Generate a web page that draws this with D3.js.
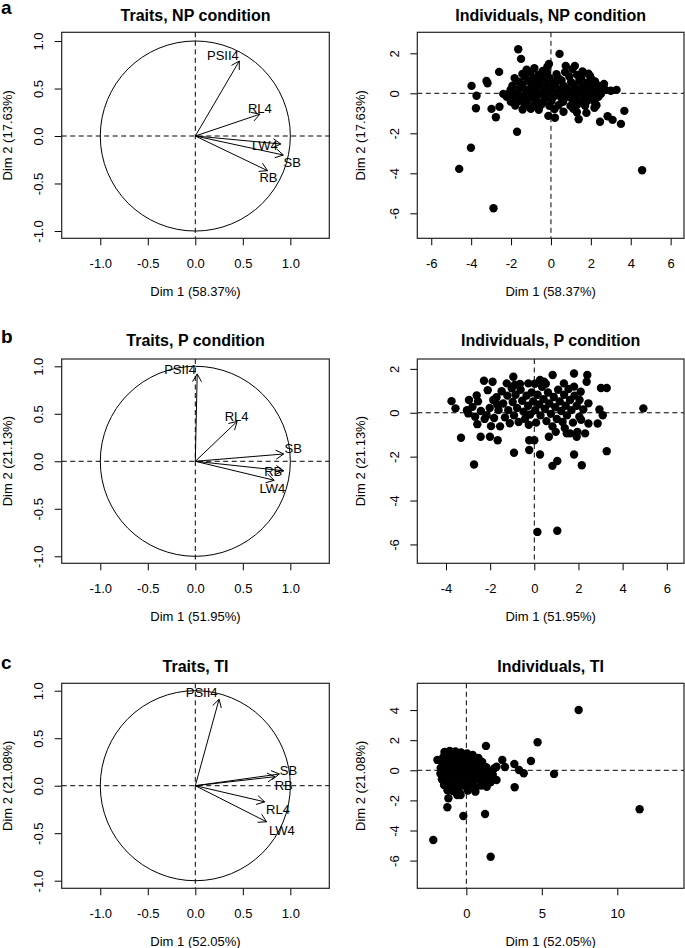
<!DOCTYPE html>
<html>
<head>
<meta charset="utf-8">
<script src="https://cdn.jsdelivr.net/npm/d3@7"></script>
<style>
  body { margin: 0; background: #fff; }
  svg text { font-family: "Liberation Sans", Arial, sans-serif; fill: #000; }
</style>
</head>
<body>
<svg id="fig" width="685" height="948"></svg>
<script>
// ---- data ----
const traitNames = ["PSII4", "RL4", "LW4", "SB", "RB"];

// variable coordinates (arrow tips) and where the label sits
const npTraitX = [0.463, 0.68, 0.90, 0.926, 0.76];
const npTraitY = [0.79, 0.23, -0.084, -0.20, -0.365];
const npLabelX = [0.29, 0.68, 0.733, 1.02, 0.77];
const npLabelY = [0.853, 0.295, -0.098, -0.28, -0.44];

const pTraitX = [0.02, 0.44, 0.83, 0.93, 0.93];
const pTraitY = [0.92, 0.42, -0.20, 0.077, -0.10];
const pLabelX = [-0.16, 0.435, 0.81, 1.03, 0.82];
const pLabelY = [0.965, 0.47, -0.283, 0.13, -0.108];

const tiTraitX = [0.25, 0.73, 0.75, 0.884, 0.84];
const tiTraitY = [0.91, -0.17, -0.38, 0.123, 0.095];
const tiLabelX = [0.067, 0.87, 0.91, 0.98, 0.93];
const tiLabelY = [0.98, -0.246, -0.468, 0.165, 0.007];

// individuals (Dim 1, Dim 2)
const npInd = [
  [-1.64,2.2],[-1.5,1.72],[0.43,1.97],[-2.6,1.07],[-3.23,0.62],[-3.18,0.5],[-3.98,0.37],[-3.73,-0.12],
  [-3.76,-0.75],[-2.98,-0.78],[-2.76,-1.2],[-2.58,-0.67],[-1.7,-1.92],[-4.01,-2.72],[-4.6,-3.78],[-2.88,-5.75],
  [4.57,-3.85],[3.68,-0.88],[3.51,-1.53],[3.09,-1.33],[2.84,-1.15],[2.46,-1.42],[1.39,-1.3],[0.2,-1.22],
  [-0.13,-1.13],[3.29,0.17],[3.0,0.13],[2.66,0.47],[1.96,0.87],[1.2,1.37],[0.74,1.37],[-0.1,1.47],
  [-0.18,1.33],[-2.39,-0.03],[-2.22,-0.17],
  [-1.22,1.18],[-0.83,1.26],[-0.41,1.12],[1.08,1.21],[1.58,1.09],
  [-1.43,0.97],[-1.02,1.04],[-0.62,0.93],[-0.19,1.02],[0.28,0.95],[0.71,1.06],[1.31,0.92],[1.88,0.98],
  [-1.82,0.76],[-1.31,0.83],[-0.88,0.74],[-0.47,0.81],[-0.08,0.77],[0.41,0.72],[0.92,0.84],[1.52,0.78],[2.03,0.7],
  [-1.61,0.58],[-1.12,0.63],[-0.69,0.55],[-0.28,0.61],[0.12,0.57],[0.53,0.64],[1.01,0.56],[1.42,0.62],[1.81,0.53],[2.21,0.59],
  [-1.93,0.38],[-1.42,0.43],[-0.98,0.36],[-0.57,0.42],[-0.18,0.35],[0.22,0.44],[0.63,0.38],[1.18,0.41],[1.61,0.34],[2.02,0.43],[2.42,0.37],
  [-2.02,0.18],[-1.58,0.22],[-1.19,0.16],[-0.78,0.23],[-0.38,0.17],[0.03,0.21],[0.42,0.15],[0.81,0.24],[1.12,0.17],[1.49,0.22],[1.92,0.16],[2.31,0.21],[2.72,0.18],
  [-2.12,-0.02],[-1.71,0.03],[-1.28,-0.04],[-0.91,0.02],[-0.52,-0.03],[-0.12,0.04],[0.31,-0.02],[0.72,0.03],[1.02,-0.04],[1.33,0.02],[1.72,-0.03],[2.12,0.04],[2.51,-0.02],
  [-1.88,-0.21],[-1.48,-0.18],[-1.09,-0.23],[-0.71,-0.17],[-0.29,-0.22],[0.12,-0.19],[0.52,-0.24],[0.88,-0.18],[1.22,-0.21],[1.62,-0.17],[2.02,-0.23],[2.38,-0.18],
  [-2.01,-0.42],[-1.58,-0.38],[-1.21,-0.43],[-0.79,-0.37],[-0.41,-0.44],[0.02,-0.39],[0.61,-0.42],[1.09,-0.36],[1.48,-0.43],[1.82,-0.38],[2.19,-0.44],
  [-1.79,-0.61],[-1.32,-0.58],[-0.88,-0.63],[-0.49,-0.57],[-0.08,-0.62],[0.38,-0.6],[0.98,-0.63],[1.31,-0.57],[1.71,-0.62],[2.28,-0.6],
  [-1.42,-0.81],[-1.01,-0.78],[-0.61,-0.82],[0.18,-0.79],[0.63,-0.92],[1.12,-0.77],[1.78,-0.98],[1.3,-0.95],[2.18,-0.72]
];

const pInd = [
  [-3.75,0.53],[-3.57,0.2],[-3.32,-1.14],[-2.96,0.58],[-2.99,-0.03],[-2.8,0.27],[-2.73,-2.36],[-2.61,0.79],
  [-2.58,-0.52],[-2.43,-1.09],[-2.28,1.46],[-2.16,-0.11],[-2.11,1.03],[-1.89,1.41],[-1.86,0.58],[-1.96,-0.61],
  [-2.01,-1.09],[-1.66,-1.25],[-1.25,1.34],[-0.95,1.64],[-0.92,-1.82],[-0.65,1.31],[-0.27,1.34],[-0.23,-1.25],
  [-0.23,-1.7],[0.0,-1.25],[0.14,-5.43],[1.04,-5.38],[0.26,-1.9],[0.26,1.49],[0.44,1.41],[0.83,1.72],
  [0.82,-2.42],[1.04,-2.2],[0.66,-1.09],[0.97,-0.87],[1.34,1.34],[1.8,1.79],[1.8,1.19],[1.8,-1.9],
  [1.47,-0.94],[1.62,-0.94],[1.92,-1.09],[1.95,-0.87],[2.15,-2.39],[2.3,-0.94],[2.4,1.72],[2.37,1.41],
  [2.45,0.43],[2.45,-0.49],[2.1,0.96],[2.04,-0.18],[2.87,-0.49],[2.95,0.15],[3.02,1.13],[3.28,1.13],
  [3.1,-0.11],[3.28,-1.75],[4.94,0.2],
  [-2.42,0.08],[-2.25,-0.28],[-2.02,0.22],[-1.82,-0.24],[-1.71,0.71],[-1.62,0.12],[-1.55,-0.62],[-1.48,0.98],
  [-1.41,0.42],[-1.33,-0.21],[-1.22,0.78],[-1.18,0.12],[-1.11,-0.48],[-1.02,1.12],[-0.98,0.49],[-0.92,-0.12],
  [-0.85,0.82],[-0.78,0.22],[-0.71,-0.42],[-0.62,1.05],[-0.55,0.55],[-0.48,0.05],[-0.42,-0.28],[-0.35,0.78],
  [-0.28,0.32],[-0.19,-0.08],[-0.12,0.92],[-0.05,0.52],[0.04,0.12],[0.08,-0.45],[0.15,0.82],[0.22,0.38],
  [0.28,-0.12],[0.35,1.18],[0.42,0.62],[0.48,0.18],[0.55,-0.38],[0.62,0.92],[0.68,0.42],[0.75,-0.05],
  [0.82,-0.62],[0.88,0.72],[0.95,0.25],[1.02,-0.28],[1.08,1.05],[1.15,0.52],[1.22,0.08],[1.28,-0.42],
  [1.35,0.82],[1.42,0.32],[1.48,-0.12],[1.55,1.08],[1.62,0.58],[1.68,0.12],[1.75,-0.45],[1.82,0.78],
  [1.92,0.32],[2.05,0.58],[2.12,-0.32],[2.22,0.15],[-0.88,1.28],[0.02,1.32],[0.52,1.32],[-1.68,0.38],
  [-0.25,-0.55],[1.38,-0.7],[-2.55,0.52],[-3.05,0.12],[-2.68,-0.18]
];

const tiInd = [
  [7.44,4.01],[11.48,-2.59],[4.72,1.86],[4.28,0.62],[5.81,-0.24],[3.8,-0.2],[3.49,0.02],[3.2,-1.13],
  [3.18,0.42],[2.38,0.69],[2.56,0.22],[2.0,0.24],[1.85,0.13],[2.0,-0.64],[1.3,1.62],[1.24,-2.9],
  [1.61,-5.74],[-0.2,-3.04],[-2.19,-4.63],[-1.26,-2.46],[-1.19,-1.86],[-1.92,0.69],[-0.38,-1.64],[1.35,-1.09],
  [1.08,-0.86],[-0.42,-1.53],
  [-1.45,1.22],[-1.1,1.28],[-0.72,1.25],[-0.35,1.18],[0.05,1.12],[0.42,1.02],[0.8,0.82],
  [-1.52,0.88],[-1.18,0.92],[-0.82,0.95],[-0.45,0.88],[-0.08,0.82],[0.3,0.78],[0.68,0.65],[1.05,0.55],
  [-1.6,0.52],[-1.25,0.58],[-0.9,0.55],[-0.55,0.6],[-0.18,0.5],[0.2,0.45],[0.58,0.38],[0.95,0.32],[1.32,0.2],
  [-1.7,0.15],[-1.35,0.2],[-1.0,0.18],[-0.65,0.22],[-0.3,0.12],[0.08,0.1],[0.45,0.05],[0.82,0.02],[1.2,-0.05],[1.55,-0.1],
  [-1.72,-0.22],[-1.4,-0.18],[-1.05,-0.25],[-0.7,-0.15],[-0.35,-0.28],[0.0,-0.2],[0.35,-0.32],[0.72,-0.25],[1.1,-0.38],[1.5,-0.45],[1.75,-0.3],
  [-1.62,-0.6],[-1.3,-0.55],[-0.95,-0.62],[-0.6,-0.52],[-0.25,-0.65],[0.12,-0.58],[0.5,-0.7],[0.88,-0.62],[1.25,-0.75],[1.6,-0.8],
  [-1.48,-0.98],[-1.15,-0.92],[-0.8,-1.02],[-0.45,-0.95],[-0.1,-1.05],[0.28,-1.0],[0.65,-1.12],[1.0,-1.02],
  [-1.25,-1.32],[-0.9,-1.38],[-0.55,-1.28],[-0.6,-1.65],[0.1,-1.35],[0.6,-1.42]
];

// axis text
const circleTicks = [-1.0, -0.5, 0.0, 0.5, 1.0];
const npTicksX = [-6, -4, -2, 0, 2, 4, 6];
const npTicksY = [-6, -4, -2, 0, 2];
const pTicksX = [-4, -2, 0, 2, 4, 6];
const pTicksY = [-6, -4, -2, 0, 2];
const tiTicksX = [0, 5, 10];
const tiTicksY = [-6, -4, -2, 0, 2, 4];

// ---- drawing ----
const svg = d3.select('#fig');
const FONT = '"Liberation Sans", Arial, sans-serif';

// sets up box, axes, titles and the dashed zero lines; returns scales
function frame(o) {
    const g = svg.append('g');
    const x = d3.scaleLinear().domain(o.xDom).range([o.left, o.right]);
    const y = d3.scaleLinear().domain(o.yDom).range([o.bottom, o.top]);

    const xAxis = d3.axisBottom(x).tickValues(o.xTicks).tickSize(7).tickFormat(o.fmt);
    g.append('g')
        .attr('transform', `translate(0,${o.bottom})`)
        .call(xAxis)
        .call(a => a.select('.domain').remove())
        .call(a => a.selectAll('line').attr('stroke', '#000'))
        .call(a => a.selectAll('text')
            .attr('font-family', FONT).attr('font-size', 13)
            .attr('y', 25.5).attr('dy', '0.35em'));

    const yAxis = d3.axisLeft(y).tickValues(o.yTicks).tickSize(7).tickFormat(o.fmt);
    g.append('g')
        .attr('transform', `translate(${o.left},0)`)
        .call(yAxis)
        .call(a => a.select('.domain').remove())
        .call(a => a.selectAll('line').attr('stroke', '#000'))
        .call(a => a.selectAll('text')
            .attr('font-family', FONT).attr('font-size', 13)
            .attr('transform', 'rotate(-90)')
            .attr('text-anchor', 'middle')
            .attr('x', 0).attr('y', -23).attr('dy', '0.35em'));

    // dashed zero lines
    g.append('line')
        .attr('x1', o.left).attr('x2', o.right)
        .attr('y1', y(0)).attr('y2', y(0))
        .attr('stroke', '#000').attr('stroke-dasharray', '5,3.5');
    g.append('line')
        .attr('x1', x(0)).attr('x2', x(0))
        .attr('y1', o.top).attr('y2', o.bottom)
        .attr('stroke', '#000').attr('stroke-dasharray', '5,3.5');

    const plot = g.append('g');

    g.append('rect')
        .attr('x', o.left).attr('y', o.top)
        .attr('width', o.right - o.left).attr('height', o.bottom - o.top)
        .attr('fill', 'none').attr('stroke', '#222').attr('stroke-width', 1.2);

    // titles
    const cx = (o.left + o.right) / 2;
    g.append('text')
        .attr('x', cx).attr('y', o.titleY)
        .attr('text-anchor', 'middle')
        .attr('font-size', 16).attr('font-weight', 'bold')
        .text(o.title);
    g.append('text')
        .attr('x', cx).attr('y', o.bottom + 53)
        .attr('dy', '0.35em')
        .attr('text-anchor', 'middle')
        .attr('font-size', 13)
        .text(o.xLab);
    g.append('text')
        .attr('transform', `translate(${o.left - o.yLabOff},${(o.top + o.bottom) / 2}) rotate(-90)`)
        .attr('dy', '0.35em')
        .attr('text-anchor', 'middle')
        .attr('font-size', 13)
        .text(o.yLab);

    return { x, y, plot };
}

function drawTraits(o, tx, ty, lx, ly) {
    const { x, y, plot } = frame(Object.assign({
        left: 61.7, right: 329.3, xDom: [-1.406, 1.41],
        xTicks: circleTicks, yTicks: circleTicks, fmt: d => d.toFixed(1), yLabOff: 54.5
    }, o));

    plot.append('circle')
        .attr('cx', x(0)).attr('cy', y(0))
        .attr('r', x(1) - x(0))
        .attr('fill', 'none').attr('stroke', '#000');

    const head = 9, ang = Math.PI / 6;
    traitNames.forEach((name, i) => {
        const x0 = x(0), y0 = y(0), x1 = x(tx[i]), y1 = y(ty[i]);
        const th = Math.atan2(y1 - y0, x1 - x0);
        plot.append('line')
            .attr('x1', x0).attr('y1', y0).attr('x2', x1).attr('y2', y1)
            .attr('stroke', '#000');
        plot.append('path')
            .attr('d', `M${x1 - head * Math.cos(th - ang)},${y1 - head * Math.sin(th - ang)}` +
                       `L${x1},${y1}` +
                       `L${x1 - head * Math.cos(th + ang)},${y1 - head * Math.sin(th + ang)}`)
            .attr('fill', 'none').attr('stroke', '#000');
        plot.append('text')
            .attr('x', x(lx[i])).attr('y', y(ly[i]))
            .attr('dy', '0.35em')
            .attr('text-anchor', 'middle')
            .attr('font-size', 13)
            .text(name);
    });
}

function drawInds(o, pts) {
    const { x, y, plot } = frame(Object.assign({
        left: 417.3, right: 684, fmt: d => String(d), yLabOff: 56.5
    }, o));
    plot.selectAll('circle')
        .data(pts)
        .enter()
        .append('circle')
        .attr('cx', d => x(d[0]))
        .attr('cy', d => y(d[1]))
        .attr('r', 4.2)
        .attr('fill', '#000');
}

function letter(t, yy) {
    svg.append('text')
        .attr('x', 1).attr('y', yy)
        .attr('font-size', 19).attr('font-weight', 'bold')
        .text(t);
}

// row a
letter('a', 14);
drawTraits({ top: 32.3, bottom: 238.3, yDom: [-1.077, 1.092], titleY: 20.7,
    title: 'Traits, NP condition', xLab: 'Dim 1 (58.37%)', yLab: 'Dim 2 (17.63%)' },
    npTraitX, npTraitY, npLabelX, npLabelY);
drawInds({ top: 32.3, bottom: 238.3, xDom: [-6.7, 6.67], yDom: [-7.25, 3.05], titleY: 20.7,
    xTicks: npTicksX, yTicks: npTicksY,
    title: 'Individuals, NP condition', xLab: 'Dim 1 (58.37%)', yLab: 'Dim 2 (17.63%)' }, npInd);

// row b
letter('b', 343.3);
drawTraits({ top: 359, bottom: 563.3, yDom: [-1.074, 1.077], titleY: 345.7,
    title: 'Traits, P condition', xLab: 'Dim 1 (51.95%)', yLab: 'Dim 2 (21.13%)' },
    pTraitX, pTraitY, pLabelX, pLabelY);
drawInds({ top: 359, bottom: 563.3, xDom: [-5.3, 6.78], yDom: [-6.86, 2.45], titleY: 345.7,
    xTicks: pTicksX, yTicks: pTicksY,
    title: 'Individuals, P condition', xLab: 'Dim 1 (51.95%)', yLab: 'Dim 2 (21.13%)' }, pInd);

// row c
letter('c', 669);
drawTraits({ top: 683.3, bottom: 888.3, yDom: [-1.08, 1.078], titleY: 672.3,
    title: 'Traits, TI', xLab: 'Dim 1 (52.05%)', yLab: 'Dim 2 (21.08%)' },
    tiTraitX, tiTraitY, tiLabelX, tiLabelY);
drawInds({ top: 683.3, bottom: 888.3, xDom: [-3.25, 14.42], yDom: [-7.84, 5.78], titleY: 672.3,
    xTicks: tiTicksX, yTicks: tiTicksY,
    title: 'Individuals, TI', xLab: 'Dim 1 (52.05%)', yLab: 'Dim 2 (21.08%)' }, tiInd);
</script>
</body>
</html>
